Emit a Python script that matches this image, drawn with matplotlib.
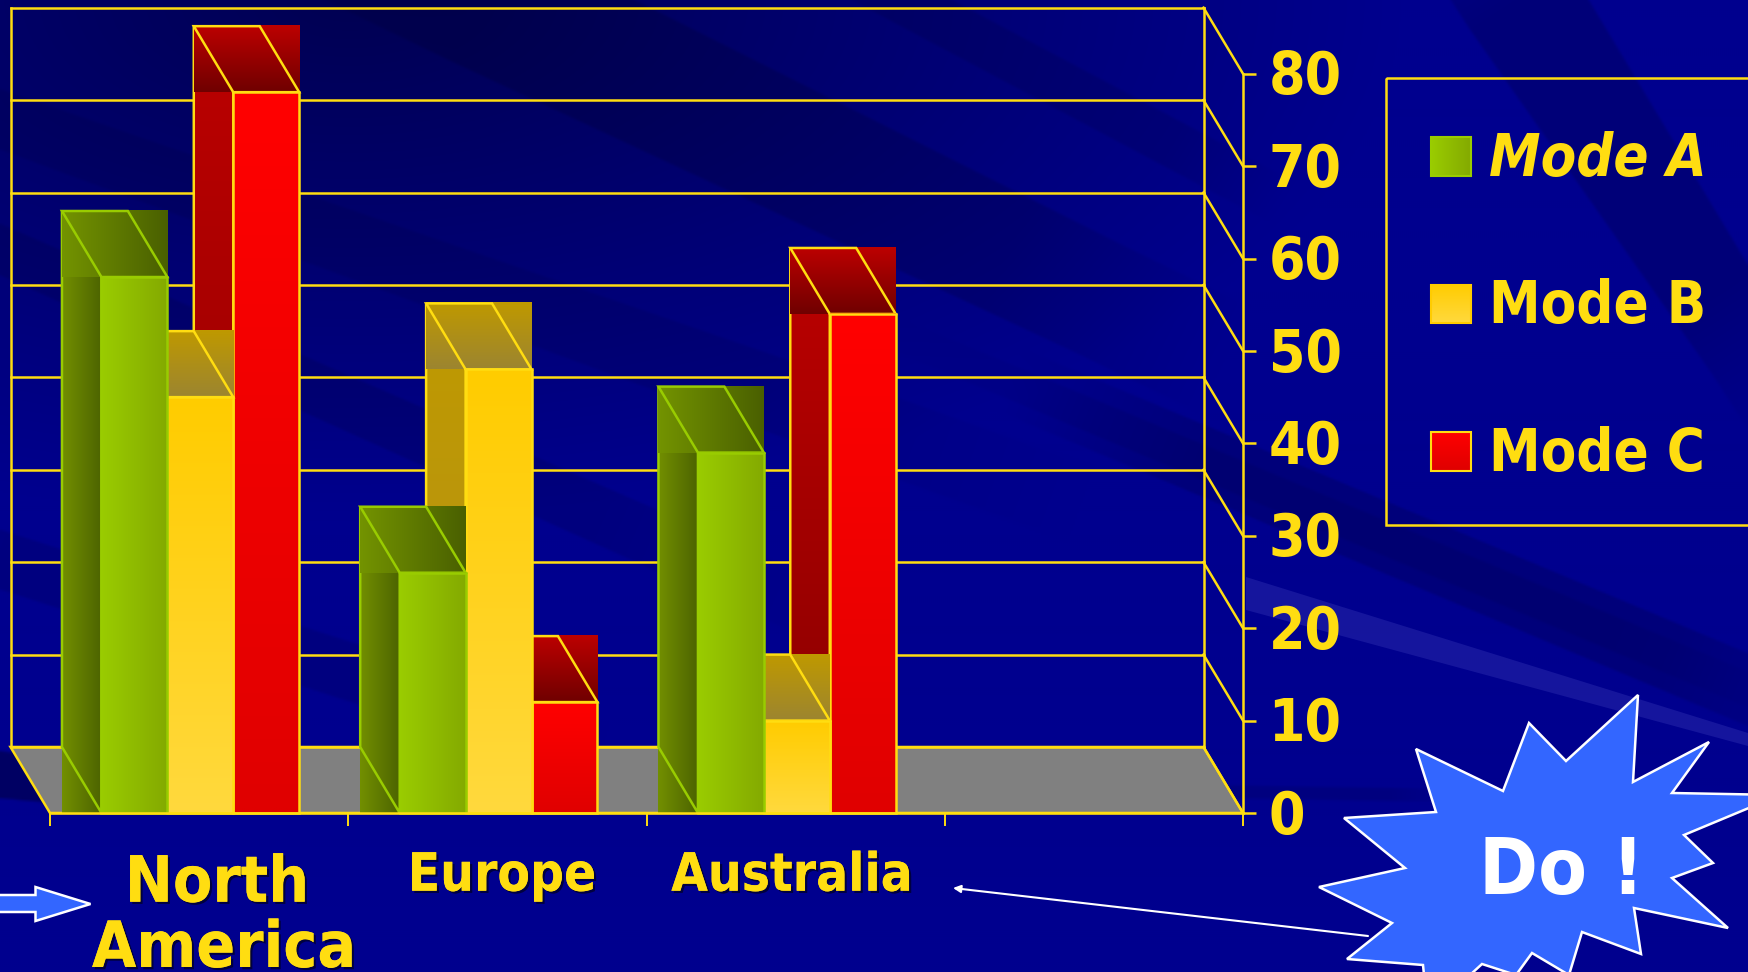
import numpy as np
import matplotlib
matplotlib.use("Agg")
import matplotlib.pyplot as plt
from matplotlib.patches import Polygon, Rectangle
from matplotlib.colors import to_rgb
from matplotlib.transforms import Affine2D
import matplotlib.patheffects as pe

WIDTH, HEIGHT = 1748, 972
TEXT = dict(family="DejaVu Sans", weight="bold", stretch="condensed")
YELLOW = "#FFDD11"
BLUE = "#3366FF"
LW = 1.8

categories = ["North America", "Europe", "Australia", ""]
modes = ["Mode A", "Mode B", "Mode C"]
mode_a = [58, 26, 39]
mode_b = [45, 48, 10]
mode_c = [78, 12, 54]
y_ticks = [0, 10, 20, 30, 40, 50, 60, 70, 80]

# front, side and top colours as (start, end, direction)
green_faces = (("#9ACC00", "#84AA00", "h"), ("#728F00", "#4D6400", "h"), ("#739300", "#4A6000", "h"))
yellow_faces = (("#FFCC00", "#FFD93D", "v"), ("#BF9900", "#B5931A", "v"), ("#BF9900", "#9C8530", "v"))
red_faces = (("#FF0000", "#E00000", "v"), ("#BC0000", "#880000", "v"), ("#BC0000", "#700000", "v"))

# depth of the oblique box, in category and value units
DEPTH_X = -39.5 / 298.25
DEPTH_Y = 66 / 9.24
BAR_WIDTH = 0.221
GROUP_SHIFT = 0.004

# dark streaks in the backdrop: start, end, half widths, strength
streaks = [
    ((480, 0), (1100, 300), 70, 60, 0.14),
    ((0, 120), (900, 440), 30, 40, 0.08),
    ((0, 250), (700, 560), 25, 30, 0.11),
    ((0, 560), (500, 720), 30, 30, 0.10),
    ((900, 0), (1220, 170), 25, 25, 0.10),
    ((1520, 0), (1748, 350), 60, 45, 0.15),
    ((1200, 460), (1748, 690), 35, 35, 0.14),
    ((1100, 420), (1700, 670), 18, 18, 0.07),
    ((-60, 768), (150, 792), 26, 22, 0.30),
    ((1230, 792), (1420, 795), 8, 8, 0.10),
]


def gradient(ax, x0, x1, y0, y1, start, end, direction, zorder):
    # y1 is the edge where the start colour sits for a vertical gradient
    c0, c1 = np.array(to_rgb(start)), np.array(to_rgb(end))
    t = np.linspace(0, 1, 64)[:, None]
    ramp = c0 * (1 - t) + c1 * t
    img = ramp[None, :, :] if direction == "h" else ramp[:, None, :]
    im = ax.imshow(img, extent=(x0, x1, y0, y1), origin="upper", aspect="auto",
                   interpolation="bilinear", zorder=zorder)
    im.set_clip_on(False)


def draw_bar(ax, x0, value, faces, edge, zorder):
    front, side, top = faces
    x1 = x0 + BAR_WIDTH
    back = x0 + DEPTH_X
    gradient(ax, back, x0, 0, value + DEPTH_Y, *side, zorder)
    ax.add_patch(Polygon([(back, DEPTH_Y), (back, value + DEPTH_Y), (x0, value), (x0, 0)],
                         fill=False, ec=edge, lw=LW, clip_on=False, zorder=zorder + 0.1))
    gradient(ax, back, x1, value, value + DEPTH_Y, *top, zorder + 0.2)
    ax.add_patch(Polygon([(back, value + DEPTH_Y), (x1 + DEPTH_X, value + DEPTH_Y), (x1, value), (x0, value)],
                         fill=False, ec=edge, lw=LW, clip_on=False, zorder=zorder + 0.3))
    gradient(ax, x0, x1, 0, value, *front, zorder + 0.4)
    ax.add_patch(Rectangle((x0, 0), BAR_WIDTH, value, fill=False, ec=edge, lw=LW,
                           clip_on=False, zorder=zorder + 0.5))


def make_backdrop():
    xs, ys = np.meshgrid(np.arange(0, WIDTH, 2) + 1.0, np.arange(0, HEIGHT, 2) + 1.0)
    shade = np.clip(np.hypot((xs - 350) / 1050, ys / 520), 0, 1)
    light = 1 - 0.42 * (1 - shade)
    for (ax0, ay0), (ax1, ay1), w0, w1, strength in streaks:
        dx, dy = ax1 - ax0, ay1 - ay0
        length = np.hypot(dx, dy)
        u = ((xs - ax0) * dx + (ys - ay0) * dy) / length ** 2
        dist = np.abs((xs - ax0) * dy - (ys - ay0) * dx) / length
        half = w0 + (w1 - w0) * np.clip(u, 0, 1)
        across = np.clip((half - dist) / 3, 0, 1)
        along = np.clip(np.minimum(u + 0.35, 1.2 - u) / 0.35, 0, 1)
        light = light * (1 - strength * across * along)
    img = np.zeros(xs.shape + (3,))
    img[:, :, 2] = 0x8E / 255 * light
    return img


fig = plt.figure(figsize=(WIDTH / 100, HEIGHT / 100), dpi=100)

# full page layer, in pixels from the top left
page = fig.add_axes([0, 0, 1, 1])
page.set_xlim(0, WIDTH)
page.set_ylim(HEIGHT, 0)
page.axis("off")

page.imshow(make_backdrop(), extent=(0, WIDTH, HEIGHT, 0), aspect="auto", interpolation="bilinear", zorder=0)
page.add_patch(Polygon([(1246, 577), (1748, 733), (1748, 746), (1246, 610)],
                       fc="#5555CC", ec="none", alpha=0.25, zorder=1))

# chart axes: the front plane of the box
ax = fig.add_axes([50 / WIDTH, 1 - 813 / HEIGHT, 1193 / WIDTH, 739.3 / HEIGHT])
ax.patch.set_visible(False)
ax.set_xlim(0, len(categories))
ax.set_ylim(0, 80)
for name in ("left", "top"):
    ax.spines[name].set_visible(False)
for name in ("right", "bottom"):
    ax.spines[name].set_color(YELLOW)
    ax.spines[name].set_linewidth(LW)
    ax.spines[name].set_zorder(50)

ax.set_xticks(range(len(categories) + 1))
ax.set_xticklabels([])
ax.yaxis.tick_right()
ax.set_yticks(y_ticks)
ax.tick_params(axis="x", length=9.4, width=1.4, color=YELLOW)
ax.tick_params(axis="y", length=9.4, width=LW, color=YELLOW, pad=9, labelcolor=YELLOW)
for label in ax.get_yticklabels():
    label.set_fontfamily(TEXT["family"])
    label.set_fontweight(TEXT["weight"])
    label.set_fontstretch(TEXT["stretch"])
    label.set_fontsize(42)
    # nudge up so the digits sit centred on their ticks
    label.set_transform(label.get_transform() + Affine2D().translate(0, 1.8))

# floor, back wall and side wall
n = len(categories)
ax.add_patch(Polygon([(0, 0), (n, 0), (n + DEPTH_X, DEPTH_Y), (DEPTH_X, DEPTH_Y)],
                     fc="#808080", ec=YELLOW, lw=LW, clip_on=False, zorder=2))
for t in y_ticks:
    ax.plot([DEPTH_X, n + DEPTH_X], [t + DEPTH_Y, t + DEPTH_Y], color=YELLOW, lw=LW, clip_on=False, zorder=2)
    ax.plot([n + DEPTH_X, n], [t + DEPTH_Y, t], color=YELLOW, lw=LW, clip_on=False, zorder=2)
for wall in (DEPTH_X, n + DEPTH_X):
    ax.plot([wall, wall], [DEPTH_Y, 80 + DEPTH_Y], color=YELLOW, lw=LW, clip_on=False, zorder=2)

# painted right to left inside a group so the near bars overlap the far ones
series = [(mode_c, red_faces, YELLOW), (mode_b, yellow_faces, YELLOW), (mode_a, green_faces, "#99CC00")]
z = 10
for i in range(3):
    for offset, (vals, faces, edge) in zip((1, 0, -1), series):
        draw_bar(ax, i + 0.5 + GROUP_SHIFT + (offset - 0.5) * BAR_WIDTH, vals[i], faces, edge, z)
        z += 1

# category labels, set by hand under the groups
shadow = [pe.withSimplePatchShadow(offset=(1.6, -1.6), shadow_rgbFace="black", alpha=0.55), pe.Normal()]
label_text = ["North", "America", "Europe", "Australia"]
label_x = [217, 224, 502, 792]
label_y = [901.7, 967, 890.7, 890.7]
label_size = [46, 46, 38, 38]
for name, x, y, size in zip(label_text, label_x, label_y, label_size):
    page.text(x, y, name, **TEXT, fontsize=size, color=YELLOW, ha="center", va="baseline",
              path_effects=shadow, zorder=5)

# legend box runs off the right of the page
page.add_patch(Rectangle((1385.5, 78.5), 500, 446.5, fill=False, ec=YELLOW, lw=LW, zorder=3))
legend_top = [137, 284.5, 431.5]
legend_base = [176, 323, 470.5]
swatches = [green_faces[0], yellow_faces[0], red_faces[0]]
edges = ["#99CC00", "#FFCC00", YELLOW]
for mode, top, base, colours, edge in zip(modes, legend_top, legend_base, swatches, edges):
    gradient(page, 1431, 1471, base, top, *colours, 4)
    page.add_patch(Rectangle((1431, top), 40, base - top, fill=False, ec=edge, lw=1.5, zorder=4.1))
    page.text(1489, base, mode, **TEXT, fontsize=41.5, color=YELLOW, va="baseline",
              style="italic" if mode == "Mode A" else "normal", zorder=4.2)

# callout burst
burst = [(1416, 749), (1503, 791), (1529, 723), (1566, 761), (1638, 695), (1633, 782), (1709, 742),
         (1672, 793), (1780, 795), (1684, 835), (1713, 863), (1672, 878), (1728, 928), (1634, 908),
         (1641, 954), (1582, 932), (1569, 975), (1532, 953), (1516, 975), (1482, 964), (1470, 975),
         (1424, 975), (1423, 965), (1347, 959), (1392, 923), (1319, 887), (1405, 868), (1344, 818), (1436, 812)]
page.add_patch(Polygon(burst, fc=BLUE, ec="white", lw=LW, zorder=6))
page.text(1562, 894, "Do !", **TEXT, fontsize=57, color="white", ha="center", va="baseline", zorder=7)

# pointer from the burst and the block arrow on the left
page.annotate("", xy=(953, 888), xytext=(1368, 936),
              arrowprops=dict(arrowstyle="-|>", color="white", lw=1.5, mutation_scale=11, shrinkA=0, shrinkB=0),
              zorder=6)
page.add_patch(Polygon([(-5, 895), (35.5, 895), (35.5, 887), (90.5, 904), (35.5, 921), (35.5, 912), (-5, 912)],
                       fc=BLUE, ec="white", lw=LW, zorder=6))

fig.savefig("out.png", dpi=100)
